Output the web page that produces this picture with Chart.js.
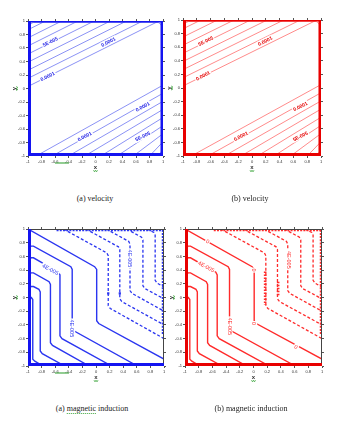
<!DOCTYPE html>
<html>
<head>
<meta charset="utf-8">
<script src="https://cdn.jsdelivr.net/npm/chart.js@4.4.1/dist/chart.umd.min.js"></script>
<style>
  body { margin: 0; background: #fff; width: 352px; height: 425px; position: relative; overflow: hidden; }
  canvas { position: absolute; }
  .cap { position: absolute; font: 8px 'Liberation Serif', serif; color: #222; white-space: nowrap; transform: translateX(-50%); line-height: 10px; opacity: 0.99; }
  .wavy { border-bottom: 1px dotted #3aa53a; }
</style>
</head>
<body>
<canvas id="c1" width="176" height="180" style="left:0;top:0"></canvas>
<canvas id="c2" width="192" height="180" style="left:160px;top:0"></canvas>
<canvas id="c3" width="176" height="180" style="left:0;top:210px"></canvas>
<canvas id="c4" width="192" height="180" style="left:160px;top:210px"></canvas>
<div class="cap" style="left:95px;top:194px">(a) velocity</div>
<div class="cap" style="left:250px;top:194px">(b) velocity</div>
<div class="cap" style="left:92px;top:404px">(a) <span class="wavy">magnetic</span> induction</div>
<div class="cap" style="left:251px;top:404px">(b) magnetic induction</div>
<script>
// tick labels (both axes run -1 .. 1)
const tickValues = [-1, -0.8, -0.6, -0.4, -0.2, 0, 0.2, 0.4, 0.6, 0.8, 1];
const tickText = ['-1', '-0.8', '-0.6', '-0.4', '-0.2', '0', '0.2', '0.4', '0.6', '0.8', '1'];

// velocity: upper band of contours, where each meets the left wall (y) and the top wall (x)
const velUpperLeftY = [0.03, 0.15, 0.27, 0.39, 0.51, 0.63, 0.75, 0.87];
const velUpperTopX = [0.94, 0.70, 0.46, 0.22, -0.02, -0.26, -0.50, -0.74];
// lower band, where each meets the bottom wall (x) and the right wall (y)
const velLowerBottomX = [-0.88, -0.64, -0.40, -0.16, 0.08, 0.32, 0.56, 0.80];
const velLowerRightY = [0.05, -0.07, -0.19, -0.31, -0.43, -0.55, -0.67, -0.79];
// contour hugging the walls
const velWallLine = [[-0.975, -0.9], [-0.975, 0.93], [-0.955, 0.965], [-0.92, 0.978], [0.93, 0.978], [0.96, 0.96], [0.978, 0.93], [0.978, -0.93], [0.96, -0.962], [0.93, -0.975], [-0.9, -0.975]];
const velLabels = [
  { t: '5E-005', x: -0.67, y: 0.69 }, { t: '0.0001', x: 0.19, y: 0.69 }, { t: '0.0001', x: -0.71, y: 0.18 },
  { t: '0.0001', x: 0.70, y: -0.27 }, { t: '0.0001', x: -0.16, y: -0.71 }, { t: '5E-005', x: 0.70, y: -0.71 }
];

// magnetic induction: solid contours (lower left)
const magSolid = [
  [[-1, 1], [-0.02, 0.45], [0.01, 0.41], [0.01, -0.34], [0.04, -0.38], [1, -0.9]],
  [[-0.98, 0.69], [-0.96, 0.75], [-0.92, 0.75], [-0.37, 0.45], [-0.35, 0.41], [-0.35, -0.45], [-0.32, -0.49], [0.61, -1]],
  [[-0.98, 0.52], [-0.96, 0.58], [-0.92, 0.58], [-0.55, 0.37], [-0.53, 0.33], [-0.53, -0.56], [-0.5, -0.6], [0.23, -1]],
  [[-0.98, 0.30], [-0.96, 0.36], [-0.92, 0.36], [-0.69, 0.23], [-0.67, 0.19], [-0.67, -0.66], [-0.64, -0.7], [-0.1, -1]],
  [[-0.98, 0.10], [-0.96, 0.16], [-0.92, 0.16], [-0.84, 0.12], [-0.82, 0.08], [-0.82, -0.78], [-0.79, -0.82], [-0.46, -1]],
  [[-0.97, -0.02], [-0.95, 0.0], [-0.93, -0.03], [-0.93, -0.9], [-0.9, -0.93], [-0.78, -1]]
];
// dashed contours (upper right)
const magDashed = [
  [[-0.48, 1], [0.16, 0.65], [0.18, 0.61], [0.18, -0.12], [0.21, -0.16], [1, -0.6]],
  [[-0.15, 1], [0.33, 0.74], [0.35, 0.70], [0.35, -0.02], [0.38, -0.06], [1, -0.40]],
  [[0.15, 1], [0.48, 0.82], [0.50, 0.78], [0.50, 0.10], [0.53, 0.06], [1, -0.2]],
  [[0.45, 1], [0.67, 0.88], [0.69, 0.84], [0.69, 0.17], [0.72, 0.13], [1, -0.02]],
  [[0.75, 1], [0.85, 0.95], [0.87, 0.91], [0.87, 0.25], [0.9, 0.21], [1, 0.15]]
];
const magTopWallX = [-0.58, 0.99];
const magRightWallY = [0.99, -0.55];
const magLabelsA = [
  { t: '4E-005', x: -0.67, y: 0.41, o: 'diag' }, { t: '4E-005', x: -0.35, y: -0.45, o: 'vert' },
  { t: '4E-005', x: 0.50, y: 0.57, o: 'vert' }
];
const magLabelsB = [
  { t: '0', x: -0.67, y: 0.82, o: 'diag' }, { t: '4E-005', x: -0.69, y: 0.45, o: 'diag' },
  { t: '0', x: 0.0, y: 0.40, o: 'vert' }, { t: '4E-005', x: -0.35, y: -0.42, o: 'vert' },
  { t: '0', x: 0.01, y: -0.38, o: 'vert' }, { t: '0', x: 0.62, y: -0.72, o: 'diag' },
  { t: '4E-005', x: 0.52, y: 0.55, o: 'vert' }
];
const magMarksA = [[0.18, 0.06], [0.35, 0.06]];
const magMarksB = [[[0.17, 0.38], [0.17, -0.11]], [[0.36, 0.23], [0.36, 0.01]]];

function pts(list) { return list.map(p => ({ x: p[0], y: p[1] })); }
function line(list, color, width, dash) {
  return { data: pts(list), showLine: true, pointRadius: 0, borderColor: color, borderWidth: width,
    borderDash: dash || [], fill: false, tension: 0 };
}

function velocityDatasets(color) {
  const ds = [];
  velUpperLeftY.forEach((y0, i) => ds.push(line([[-1, y0], [velUpperTopX[i], 1]], color, 1)));
  velLowerBottomX.forEach((x0, i) => ds.push(line([[x0, -1], [1, velLowerRightY[i]]], color, 1)));
  ds.push(line(velWallLine, color, 1));
  return ds;
}

function magneticDatasets(color, marks) {
  const ds = [];
  magSolid.forEach(l => ds.push(line(l, color, 1.4)));
  magDashed.forEach(l => ds.push(line(l, color, 1.3, [3, 2])));
  ds.push(line([[magTopWallX[0], 0.985], [magTopWallX[1], 0.985]], color, 2.4, [2, 1.2]));
  ds.push(line([[0.985, magRightWallY[0]], [0.985, magRightWallY[1]]], color, 2.4, [2, 1.2]));
  if (marks === 'dots') {
    ds.push({ data: pts(magMarksA), showLine: false, pointStyle: 'rect', pointRadius: 1.6,
      backgroundColor: color, borderColor: color, borderWidth: 0 });
  } else {
    magMarksB.forEach(seg => ds.push(line(seg, color, 2.6, [1.6, 1.4])));
  }
  return ds;
}

const deco = {
  id: 'deco',
  afterDatasetsDraw(chart, args, o) {
    const { ctx, chartArea: a, scales: { x, y } } = chart;
    ctx.save();
    // frame
    ctx.strokeStyle = '#444';
    ctx.lineWidth = 1;
    ctx.strokeRect(a.left + 0.5, a.top + 0.5, a.width - 1, a.height - 1);
    // heavy wall lines
    ctx.strokeStyle = o.wall;
    const w = o.walls;
    const edge = (x0, y0, x1, y1, lw) => {
      if (!lw) return;
      ctx.lineWidth = lw; ctx.beginPath(); ctx.moveTo(x0, y0); ctx.lineTo(x1, y1); ctx.stroke();
    };
    edge(a.left + w.l / 2, a.top, a.left + w.l / 2, a.bottom, w.l);
    edge(a.left, a.bottom - w.b / 2, a.right, a.bottom - w.b / 2, w.b);
    edge(a.right - w.r / 2, a.top, a.right - w.r / 2, a.bottom, w.r);
    edge(a.left, a.top + w.t / 2, a.right, a.top + w.t / 2, w.t);
    // contour labels
    o.labels.forEach(l => {
      const px = x.getPixelForValue(l.x), py = y.getPixelForValue(l.y);
      ctx.save();
      ctx.translate(px, py);
      ctx.rotate((l.o === 'vert' ? 90 : l.o === 'diag' ? 29 : -27) * Math.PI / 180);
      ctx.font = o.labelFont;
      const tw = ctx.measureText(l.t).width;
      ctx.fillStyle = '#fff';
      ctx.fillRect(-tw / 2 - 1, -3, tw + 2, 6);
      ctx.fillStyle = o.labelColor;
      ctx.textAlign = 'center';
      ctx.textBaseline = 'middle';
      ctx.fillText(l.t, 0, 0.3);
      ctx.restore();
    });
    // axis titles
    ctx.fillStyle = '#333';
    ctx.font = 'bold 6px "Liberation Sans"';
    ctx.textAlign = 'center';
    ctx.textBaseline = 'middle';
    const cx = (a.left + a.right) / 2, cy = (a.top + a.bottom) / 2;
    ctx.fillText('x', cx, a.bottom + 11.5);
    ctx.save();
    ctx.translate(a.left - 14, cy);
    ctx.rotate(-Math.PI / 2);
    ctx.fillText('y', 0, 0);
    ctx.restore();
    // spell-check squiggles
    ctx.strokeStyle = '#3aa53a';
    ctx.lineWidth = 0.8;
    const squig = (x0, y0, len, vertical) => {
      ctx.beginPath();
      for (let i = 0; i <= len; i++) {
        const d = (i % 2) ? 0.8 : -0.8;
        if (vertical) ctx.lineTo(x0 + d, y0 - i); else ctx.lineTo(x0 + i, y0 + d);
      }
      ctx.stroke();
    };
    squig(cx - 2, a.bottom + 15, 4, false);
    squig(a.left - 11, cy + 2, 4, true);
    if (o.tickSquiggle) squig(a.left + 27, a.bottom + 7, 14, false);
    ctx.restore();
  }
};

function axis(id, pos, size, showLabels) {
  const horiz = pos === 'top' || pos === 'bottom';
  return {
    type: 'linear', position: pos, min: -1, max: 1,
    afterBuildTicks: s => { s.ticks = tickValues.map(v => ({ value: v })); },
    ticks: { display: showLabels, callback: (v, i) => tickText[i], font: { size: 4, family: 'Liberation Sans' },
      color: '#333', padding: 1, maxRotation: 0, autoSkip: false },
    grid: { drawOnChartArea: false, drawTicks: true, tickLength: 2, color: '#555' },
    border: { display: false },
    afterFit: s => { if (horiz) s.height = size; else s.width = size; }
  };
}

function makeChart(id, box, datasets, decoOpts) {
  new Chart(document.getElementById(id), {
    type: 'scatter',
    data: { datasets },
    options: {
      responsive: false, animation: false, devicePixelRatio: 1,
      layout: { padding: 0 },
      scales: {
        x: axis('x', 'bottom', box.b, true),
        x2: axis('x2', 'top', box.t, false),
        y: axis('y', 'left', box.l, true),
        y2: axis('y2', 'right', box.r, false)
      },
      plugins: { legend: { display: false }, tooltip: { enabled: false }, deco: decoOpts }
    },
    plugins: [deco]
  });
}

const BLUE = '#1414f0', RED = '#e80000';
makeChart('c1', { l: 28, t: 21, r: 13, b: 24 }, velocityDatasets('rgba(90,100,240,0.7)'),
  { wall: BLUE, walls: { l: 3, b: 3, r: 2.5, t: 1.5 }, labels: velLabels, labelColor: '#1a1ae6',
    labelFont: 'bold 5px "Liberation Sans"', tickSquiggle: true });
makeChart('c2', { l: 23, t: 20, r: 31, b: 24 }, velocityDatasets('rgba(255,90,90,0.7)'),
  { wall: RED, walls: { l: 3, b: 3, r: 2.5, t: 1.5 }, labels: velLabels, labelColor: '#e60000',
    labelFont: 'bold 5px "Liberation Sans"', tickSquiggle: false });
makeChart('c3', { l: 28, t: 19, r: 12, b: 24 }, magneticDatasets('#2a35f0', 'dots'),
  { wall: BLUE, walls: { l: 3, b: 3, r: 0, t: 0 }, labels: magLabelsA, labelColor: '#2a35f0',
    labelFont: '5.5px "Liberation Sans"', tickSquiggle: true });
makeChart('c4', { l: 25, t: 19, r: 30, b: 24 }, magneticDatasets('#ff2a2a', 'bars'),
  { wall: RED, walls: { l: 3, b: 3, r: 0, t: 0 }, labels: magLabelsB, labelColor: '#ff2a2a',
    labelFont: '5.5px "Liberation Sans"', tickSquiggle: false });
</script>
</body>
</html>
